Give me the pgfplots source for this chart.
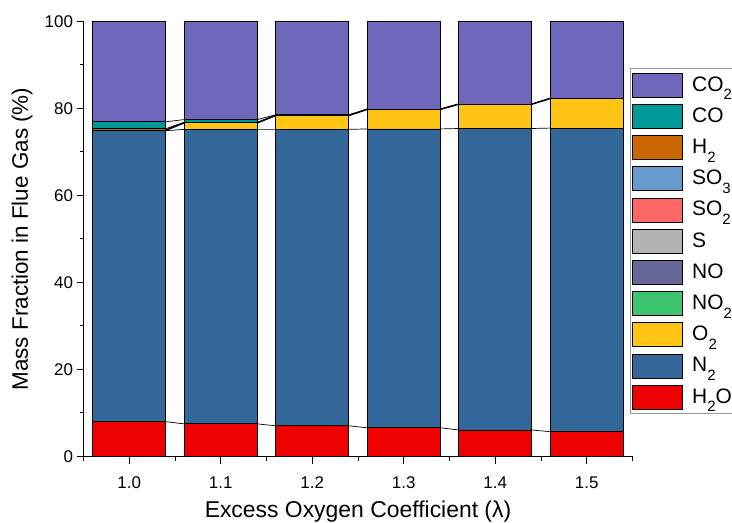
\documentclass[border=0pt]{standalone}
\usepackage{fontspec}
\setmainfont{Liberation Sans}
\usepackage{pgfplots}
\pgfplotsset{compat=1.18}
\definecolor{cCOtwo}{HTML}{6E67BC}
\definecolor{cCO}{HTML}{009999}
\definecolor{cHtwo}{HTML}{CC6600}
\definecolor{cSOthree}{HTML}{6699CC}
\definecolor{cSOtwo}{HTML}{FF6666}
\definecolor{cS}{HTML}{B3B3B3}
\definecolor{cNO}{HTML}{666699}
\definecolor{cNOtwo}{HTML}{3CC46E}
\definecolor{cOtwo}{HTML}{FFC414}
\definecolor{cNtwo}{HTML}{336699}
\definecolor{cHtwoO}{HTML}{EE0000}
\newcommand{\sub}[1]{\raisebox{-0.42em}{\fontsize{15}{15}\selectfont #1}}
\pgfplotsset{
  myaxis/.style={
    at={(83.5bp,66.5bp)}, anchor=south west, scale only axis,
    width=549bp, height=435bp,
    xmin=0.95, xmax=1.55, ymin=0, ymax=100,
  }
}
\begin{document}
\begin{tikzpicture}
\path[use as bounding box] (0,0) rectangle (732bp,523bp);
\clip (0,0) rectangle (732bp,523bp);
% connecting lines between bars
\begin{axis}[myaxis, hide axis]
\addplot[black, line width=0.7bp] coordinates {(0.96,8.0) (1.04,8.0) (1.06,7.5) (1.14,7.5) (1.16,7.05) (1.24,7.05) (1.26,6.6) (1.34,6.6) (1.36,6.1) (1.44,6.1) (1.46,5.7) (1.54,5.7)};
\addplot[black, line width=0.7bp] coordinates {(0.96,74.9) (1.04,74.9) (1.06,75.2) (1.14,75.2) (1.16,75.2) (1.24,75.2) (1.26,75.3) (1.34,75.3) (1.36,75.4) (1.44,75.4) (1.46,75.5) (1.54,75.5)};
\addplot[black, line width=1.5bp] coordinates {(0.96,75.0) (1.04,75.0) (1.06,76.7) (1.14,76.7) (1.16,78.4) (1.24,78.4) (1.26,79.8) (1.34,79.8) (1.36,81.0) (1.44,81.0) (1.46,82.3) (1.54,82.3)};
\addplot[black, line width=0.8bp] coordinates {(0.96,75.35) (1.04,75.35) (1.06,76.85) (1.14,76.85) (1.16,78.45) (1.24,78.45) (1.26,79.82) (1.34,79.82) (1.36,81.01) (1.44,81.01) (1.46,82.31) (1.54,82.31)};
\addplot[black, line width=0.7bp] coordinates {(0.96,76.95) (1.04,76.95) (1.06,77.45) (1.14,77.45) (1.16,78.55) (1.24,78.55) (1.26,79.87) (1.34,79.87) (1.36,81.03) (1.44,81.03) (1.46,82.32) (1.54,82.32)};
\end{axis}
\begin{axis}[myaxis,
  ybar stacked, bar width=0.08,
  axis lines*=left,
  axis line style={black, line width=1bp},
  tick align=outside,
  major tick length=7bp, minor tick length=4bp,
  tick style={black, line width=1bp},
  xtick={1.0,1.1,1.2,1.3,1.4,1.5},
  xticklabels={1.0,1.1,1.2,1.3,1.4,1.5},
  minor xtick={0.95,1.05,1.15,1.25,1.35,1.45,1.55},
  ytick={0,20,40,60,80,100},
  minor ytick={10,30,50,70,90},
  /pgf/number format/assume math mode=true,
  tick label style={font=\fontsize{17}{20}\selectfont, black},
  xticklabel shift=10bp,
  xlabel={Excess Oxygen Coefficient (λ)},
  ylabel={Mass Fraction in Flue Gas (\%)},
  every axis x label/.style={at={(axis description cs:0.5,-0.1395)}, anchor=base, font=\fontsize{23}{26}\selectfont},
  every axis y label/.style={at={(axis description cs:-0.1015,0.5)}, anchor=base, rotate=90, font=\fontsize{22.5}{26}\selectfont},
  every axis plot/.append style={draw=black, line width=0.8bp},
  reverse legend,
  legend cell align=left,
  legend image code/.code={\draw[#1, line width=0.8bp] (0bp,-12bp) rectangle (50bp,12bp);},
  legend style={at={(axis description cs:0.9954,0.8924)}, anchor=north west,
    draw=gray!80, line width=0.9bp, fill=white,
    font=\fontsize{21}{24}\selectfont, row sep=0.2bp,
    inner xsep=2bp, inner ysep=1bp,
    nodes={text height=15.5bp, text depth=4bp, inner ysep=5.75bp},
    /tikz/every odd column/.append style={column sep=7bp}},
]
\addplot[fill=cHtwoO] coordinates {(1.0,8.0) (1.1,7.5) (1.2,7.05) (1.3,6.6) (1.4,6.1) (1.5,5.7)};
\addplot[fill=cNtwo] coordinates {(1.0,66.9) (1.1,67.7) (1.2,68.15) (1.3,68.7) (1.4,69.3) (1.5,69.8)};
\addplot[fill=cOtwo] coordinates {(1.0,0.1) (1.1,1.5) (1.2,3.2) (1.3,4.5) (1.4,5.6) (1.5,6.8)};
\addplot[fill=cNOtwo] coordinates {(1.0,0) (1.1,0) (1.2,0) (1.3,0) (1.4,0) (1.5,0)};
\addplot[fill=cNO] coordinates {(1.0,0) (1.1,0) (1.2,0) (1.3,0) (1.4,0) (1.5,0)};
\addplot[fill=cS] coordinates {(1.0,0) (1.1,0) (1.2,0) (1.3,0) (1.4,0) (1.5,0)};
\addplot[fill=cSOtwo] coordinates {(1.0,0) (1.1,0) (1.2,0) (1.3,0) (1.4,0) (1.5,0)};
\addplot[fill=cSOthree] coordinates {(1.0,0) (1.1,0) (1.2,0) (1.3,0) (1.4,0) (1.5,0)};
\addplot[fill=cHtwo] coordinates {(1.0,0.35) (1.1,0.15) (1.2,0.05) (1.3,0.02) (1.4,0.01) (1.5,0.01)};
\addplot[fill=cCO] coordinates {(1.0,1.6) (1.1,0.6) (1.2,0.1) (1.3,0.05) (1.4,0.02) (1.5,0.01)};
\addplot[fill=cCOtwo] coordinates {(1.0,23.05) (1.1,22.55) (1.2,21.45) (1.3,20.13) (1.4,18.97) (1.5,17.68)};
\legend{H\sub{2}O, N\sub{2}, O\sub{2}, NO\sub{2}, NO, S, SO\sub{2}, SO\sub{3}, H\sub{2}, CO, CO\sub{2}}
\end{axis}
\end{tikzpicture}
\end{document}
